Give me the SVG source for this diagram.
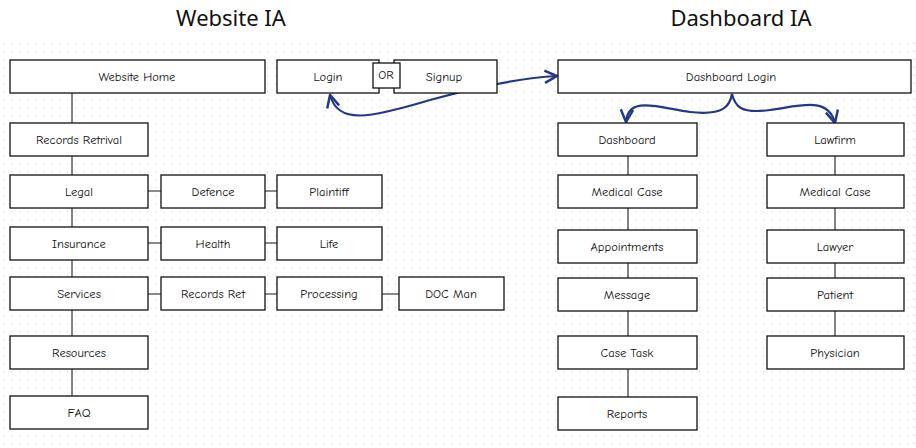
<svg xmlns="http://www.w3.org/2000/svg" width="916" height="448" viewBox="0 0 916 448">
<defs>
<pattern id="dots" width="8" height="8" patternUnits="userSpaceOnUse"><rect x="3" y="3" width="1.2" height="1.2" fill="#dcdcdc"/></pattern>
<marker id="ah" viewBox="0 0 10 10" refX="9" refY="5" markerWidth="7" markerHeight="7" orient="auto-start-reverse"><path d="M1,1 L9,5 L1,9" fill="none" stroke="#23388a" stroke-width="1.6"/></marker>
<style>
.b{fill:#fff;stroke:#111;stroke-width:1.3}
.t{font-family:"Comic Neue","Noto Sans",sans-serif;font-size:12.5px;fill:#111;text-anchor:middle;dominant-baseline:central}
.h{font-family:"Noto Sans",sans-serif;font-size:22px;fill:#111;text-anchor:middle}
.l{stroke:#666;stroke-width:1.6;fill:none}
.c{stroke:#23388a;stroke-width:2.2;fill:none}
</style>
</defs>
<rect width="916" height="448" fill="#fff"/>
<rect x="0" y="40" width="916" height="408" fill="url(#dots)"/>
<text class="h" x="231" y="26">Website IA</text>
<text class="h" x="741" y="26">Dashboard IA</text>
<g id="connectors">
<path class="l" d="M72 93V396M148 191H161M265 191H277M148 243H161M265 243H277M148 294H161M265 294H277M382 294H399M628 156V397M835 156V336"/>
<path class="c" d="M330 95 C338 125 370 118 430 100 C480 86 520 78 557 76" marker-start="url(#ah)" marker-end="url(#ah)"/>
<path class="c" d="M626 122 C628 95 660 108 690 112 C725 116 730 105 732 94 C735 106 740 114 770 110 C800 106 828 96 835 123" marker-start="url(#ah)" marker-end="url(#ah)"/>
<path class="c" d="M732 94 L732 96"/>
</g>
<g id="website-home"><rect class="b" x="10" y="60" width="255" height="33"/><text class="t" x="137" y="77">Website Home</text></g>
<g id="login"><rect class="b" x="277" y="60" width="102" height="33"/><text class="t" x="328" y="77">Login</text></g>
<g id="signup"><rect class="b" x="394" y="60" width="103" height="33"/><text class="t" x="444" y="77">Signup</text></g>
<g id="or"><rect class="b" x="373" y="63" width="27" height="25"/><text class="t" x="386" y="75">OR</text></g>
<g id="dashboard-login"><rect class="b" x="558" y="60" width="353" height="33"/><text class="t" x="731" y="77">Dashboard Login</text></g>
<g id="records-retrival"><rect class="b" x="10" y="123" width="138" height="33"/><text class="t" x="79" y="140">Records Retrival</text></g>
<g id="legal"><rect class="b" x="10" y="175" width="138" height="33"/><text class="t" x="79" y="192">Legal</text></g>
<g id="insurance"><rect class="b" x="10" y="227" width="138" height="33"/><text class="t" x="79" y="244">Insurance</text></g>
<g id="services"><rect class="b" x="10" y="277" width="138" height="33"/><text class="t" x="79" y="294">Services</text></g>
<g id="resources"><rect class="b" x="10" y="336" width="138" height="33"/><text class="t" x="79" y="353">Resources</text></g>
<g id="faq"><rect class="b" x="10" y="396" width="138" height="33"/><text class="t" x="79" y="413">FAQ</text></g>
<g id="defence"><rect class="b" x="161" y="175" width="104" height="33"/><text class="t" x="213" y="192">Defence</text></g>
<g id="health"><rect class="b" x="161" y="227" width="104" height="33"/><text class="t" x="213" y="244">Health</text></g>
<g id="records-ret"><rect class="b" x="161" y="277" width="104" height="33"/><text class="t" x="213" y="294">Records Ret</text></g>
<g id="plaintiff"><rect class="b" x="277" y="175" width="105" height="33"/><text class="t" x="329" y="192">Plaintiff</text></g>
<g id="life"><rect class="b" x="277" y="227" width="105" height="33"/><text class="t" x="329" y="244">Life</text></g>
<g id="processing"><rect class="b" x="277" y="277" width="105" height="33"/><text class="t" x="329" y="294">Processing</text></g>
<g id="doc-man"><rect class="b" x="399" y="277" width="105" height="33"/><text class="t" x="451" y="294">DOC Man</text></g>
<g id="dashboard"><rect class="b" x="558" y="123" width="139" height="33"/><text class="t" x="627" y="140">Dashboard</text></g>
<g id="medical-case-1"><rect class="b" x="558" y="175" width="139" height="33"/><text class="t" x="627" y="192">Medical Case</text></g>
<g id="appointments"><rect class="b" x="558" y="230" width="139" height="33"/><text class="t" x="627" y="247">Appointments</text></g>
<g id="message"><rect class="b" x="558" y="278" width="139" height="33"/><text class="t" x="627" y="295">Message</text></g>
<g id="case-task"><rect class="b" x="558" y="336" width="139" height="33"/><text class="t" x="627" y="353">Case Task</text></g>
<g id="reports"><rect class="b" x="558" y="397" width="139" height="33"/><text class="t" x="627" y="414">Reports</text></g>
<g id="lawfirm"><rect class="b" x="767" y="123" width="137" height="33"/><text class="t" x="835" y="140">Lawfirm</text></g>
<g id="medical-case-2"><rect class="b" x="767" y="175" width="137" height="33"/><text class="t" x="835" y="192">Medical Case</text></g>
<g id="lawyer"><rect class="b" x="767" y="230" width="137" height="33"/><text class="t" x="835" y="247">Lawyer</text></g>
<g id="patient"><rect class="b" x="767" y="278" width="137" height="33"/><text class="t" x="835" y="295">Patient</text></g>
<g id="physician"><rect class="b" x="767" y="336" width="137" height="33"/><text class="t" x="835" y="353">Physician</text></g>
</svg>
